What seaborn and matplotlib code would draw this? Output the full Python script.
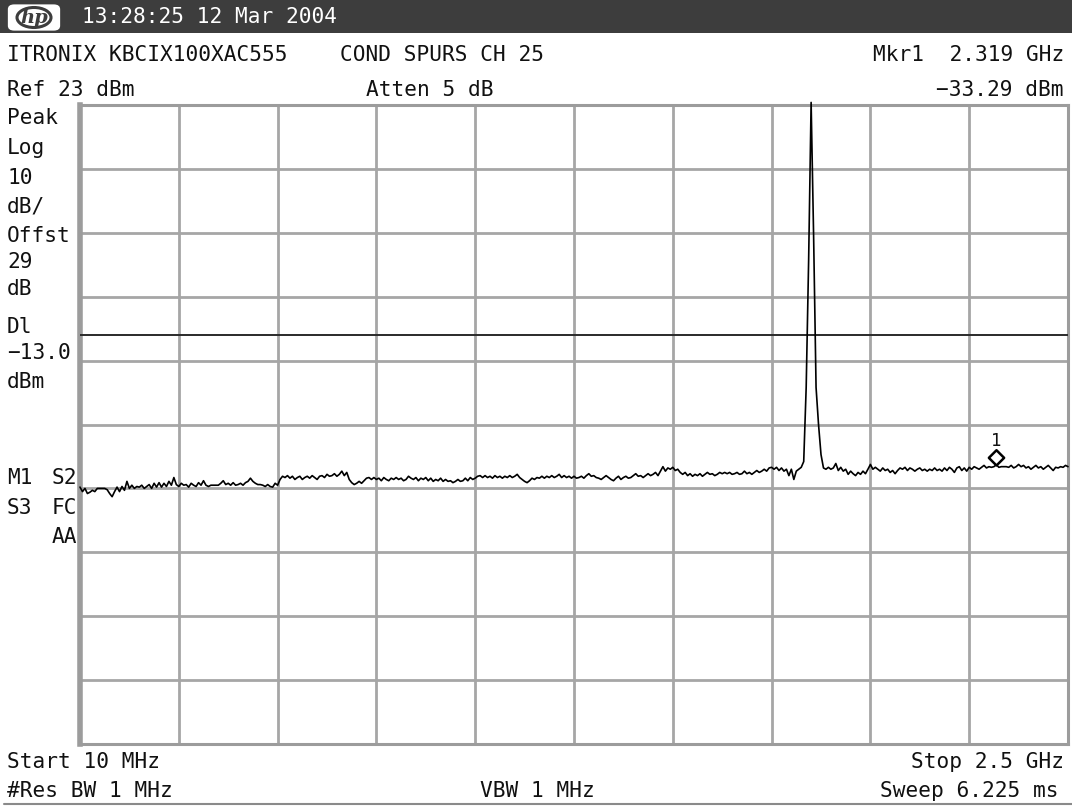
import numpy as np
import pandas as pd
import matplotlib
matplotlib.use("Agg")
import matplotlib.pyplot as plt
from matplotlib.path import Path
from matplotlib.patches import FancyBboxPatch, Rectangle, Ellipse
import seaborn as sns

# ---- sweep settings -------------------------------------------------------
START_GHZ = 0.010
STOP_GHZ = 2.5
N_POINTS = 401
REF_DBM = 23.0
DB_PER_DIV = 10.0
DISPLAY_LINE_DBM = -13.0
MARKER_GHZ = 2.319
MARKER_DBM = -33.29

# ---- measured trace (dBm), one value per sweep point -----------------------
trace_div1 = [-36.8, -37.5, -37.0, -37.8, -37.6, -37.3, -37.5, -37.0, -37.0, -37.0,
              -37.0, -37.2, -37.8, -38.3, -37.5, -36.8, -37.5, -36.7, -37.3, -35.9,
              -37.0, -36.5, -37.0, -36.7, -36.8, -36.5, -37.0, -36.7, -36.4, -37.0,
              -36.2, -36.8, -36.1, -36.8, -36.2, -36.7, -35.9, -36.5, -35.3, -36.4]
trace_div2 = [-36.7, -36.2, -36.5, -36.4, -36.8, -36.2, -36.5, -36.7, -36.1, -36.5,
              -35.8, -36.5, -36.7, -36.5, -36.5, -36.5, -36.5, -36.2, -35.8, -36.4,
              -36.2, -36.5, -36.1, -36.5, -36.4, -36.2, -36.5, -36.1, -35.9, -35.4,
              -35.9, -36.2, -36.4, -36.4, -36.5, -36.7, -36.4, -36.7, -36.8, -36.2]
trace_div3 = [-36.5, -35.6, -35.1, -35.3, -35.0, -35.4, -35.1, -35.6, -35.3, -35.1,
              -35.6, -35.3, -35.1, -35.4, -35.0, -35.3, -35.6, -35.1, -35.0, -35.3,
              -34.8, -35.1, -35.0, -34.7, -35.1, -34.8, -34.3, -35.0, -34.5, -35.6,
              -36.1, -36.4, -36.2, -35.9, -36.2, -35.8, -35.4, -35.3, -35.6, -35.3]
trace_div4 = [-35.6, -35.4, -35.8, -35.3, -35.6, -35.8, -35.4, -35.6, -35.3, -35.6,
              -35.4, -35.8, -35.6, -35.1, -35.4, -35.6, -35.3, -35.8, -35.4, -35.6,
              -35.3, -35.8, -35.4, -35.9, -35.6, -35.8, -35.4, -35.9, -35.6, -35.9,
              -35.8, -36.1, -35.9, -35.6, -35.9, -35.8, -35.4, -35.8, -35.3, -35.6]
trace_div5 = [-35.4, -35.1, -35.0, -35.3, -35.0, -35.3, -35.1, -35.4, -35.0, -35.3,
              -35.1, -35.4, -35.1, -35.3, -35.0, -35.3, -35.1, -34.8, -35.3, -35.6,
              -35.9, -36.1, -35.8, -35.4, -35.6, -35.3, -35.4, -35.1, -35.4, -35.1,
              -35.3, -35.0, -35.3, -35.1, -34.8, -35.3, -35.0, -35.3, -35.1, -35.4]
trace_div6 = [-35.1, -35.4, -35.3, -35.1, -35.4, -35.0, -34.7, -35.1, -35.0, -35.3,
              -35.4, -35.6, -35.3, -35.0, -35.3, -35.6, -35.8, -35.4, -35.1, -35.6,
              -35.3, -35.1, -35.4, -35.3, -35.0, -34.7, -35.1, -35.0, -35.3, -35.0,
              -34.7, -35.0, -34.8, -34.5, -35.0, -34.3, -33.6, -34.3, -33.8, -34.0]
trace_div7 = [-33.7, -34.2, -34.0, -34.5, -34.8, -34.5, -35.0, -34.7, -35.1, -34.8,
              -35.0, -34.7, -35.1, -34.8, -34.5, -34.8, -34.7, -35.0, -34.8, -34.5,
              -34.7, -34.5, -34.7, -34.5, -34.8, -34.7, -34.5, -34.8, -34.7, -34.3,
              -34.7, -34.5, -34.8, -34.5, -34.2, -34.5, -34.3, -34.0, -34.3, -33.8]
trace_div8 = [-33.7, -34.0, -33.7, -34.2, -33.8, -34.3, -34.0, -35.0, -34.0, -35.6,
              -34.3, -34.0, -33.7, -32.8, -21.2, -1.2, 23.4, 2.7, -21.2, -27.0,
              -31.7, -33.8, -34.0, -33.7, -34.0, -33.8, -33.1, -34.2, -33.7, -34.3,
              -34.0, -34.8, -34.3, -34.7, -35.0, -34.5, -34.8, -34.3, -34.7, -34.0]
trace_div9 = [-33.25, -34.0, -33.7, -34.0, -34.3, -33.8, -34.2, -34.0, -34.5, -34.2,
              -34.7, -34.2, -33.8, -34.0, -33.7, -34.2, -33.8, -34.0, -34.3, -34.0,
              -33.8, -34.2, -34.0, -34.3, -34.0, -34.2, -33.8, -34.2, -34.0, -34.3,
              -33.8, -34.2, -33.7, -34.0, -34.5, -33.8, -33.6, -34.2, -33.8, -34.3]
trace_div10 = [-33.7, -34.0, -33.6, -33.8, -34.0, -33.7, -33.4, -33.8, -33.6, -33.7,
               -33.6, -33.29, -33.7, -33.6, -33.6, -33.6, -33.7, -33.4, -33.8, -33.6,
               -33.25, -33.6, -33.4, -33.8, -33.6, -34.0, -33.7, -33.4, -33.8, -33.6,
               -34.0, -33.7, -33.4, -33.8, -34.2, -33.7, -33.8, -33.6, -33.7, -33.4,
               -33.6]

trace_dbm = (trace_div1 + trace_div2 + trace_div3 + trace_div4 + trace_div5 +
             trace_div6 + trace_div7 + trace_div8 + trace_div9 + trace_div10)
freq_ghz = np.linspace(START_GHZ, STOP_GHZ, N_POINTS)
sweep = pd.DataFrame({"freq_ghz": freq_ghz, "level_dbm": trace_dbm})

# ---- annotation text -------------------------------------------------------
header_text = "13:28:25 12 Mar 2004"
title_left = "ITRONIX KBCIX100XAC555"
title_mid = "COND SPURS CH 25"
mkr_freq_text = "Mkr1  2.319 GHz"
mkr_level_text = "\u221233.29 dBm"
ref_text = "Ref 23 dBm"
atten_text = "Atten 5 dB"
side_labels = [("Peak", 118), ("Log", 148), ("10", 178), ("dB/", 207),
               ("Offst", 236), ("29", 262), ("dB", 289), ("Dl", 327),
               ("\u221213.0", 353), ("dBm", 382)]
start_text = "Start 10 MHz"
stop_text = "Stop 2.5 GHz"
rbw_text = "#Res BW 1 MHz"
vbw_text = "VBW 1 MHz"
sweep_text = "Sweep 6.225 ms"

# ---- figure ---------------------------------------------------------------
sns.set_style("white")
plt.rcParams["font.family"] = ["DejaVu Sans Mono", "DejaVu Sans"]

W, H = 1072, 806
fig = plt.figure(figsize=(W / 100, H / 100), dpi=100)
fig.patch.set_facecolor("white")

def fx(x):
    return x / W

def fy(y):
    return 1 - y / H

FS = 15.2
TXT = "#111111"

ax_left, ax_right, ax_top, ax_bottom = 80, 1068, 105, 744
ax = fig.add_axes([fx(ax_left), fy(ax_bottom), (ax_right - ax_left) / W,
                   (ax_bottom - ax_top) / H])

bottom_dbm = REF_DBM - 10 * DB_PER_DIV
sns.lineplot(data=sweep, x="freq_ghz", y="level_dbm", color="black",
             linewidth=1.2, ax=ax, clip_on=False, zorder=5)
ax.set_xlim(START_GHZ, STOP_GHZ)
ax.set_ylim(bottom_dbm, REF_DBM)

ax.set_xticks(np.linspace(START_GHZ, STOP_GHZ, 11))
ax.set_yticks(np.linspace(bottom_dbm, REF_DBM, 11))
ax.tick_params(length=0, labelbottom=False, labelleft=False)
ax.set_xlabel("")
ax.set_ylabel("")
ax.grid(True, color="#a6a6a6", linewidth=2)
for name, sp in ax.spines.items():
    sp.set_color("#9c9c9c")
    sp.set_linewidth(2.2)
ax.spines["left"].set_linewidth(4)

# display line
ax.axhline(DISPLAY_LINE_DBM, color="#2a2a2a", linewidth=1.4, zorder=4)

# marker 1: diamond sitting on the trace point
diamond = Path([(0, 0), (1, 1), (0, 2), (-1, 1), (0, 0)],
               [Path.MOVETO, Path.LINETO, Path.LINETO, Path.LINETO, Path.CLOSEPOLY])
ax.plot([MARKER_GHZ], [MARKER_DBM], marker=diamond, markersize=22,
        markerfacecolor="white", markeredgecolor="black", markeredgewidth=1.8,
        linestyle="none", zorder=6, clip_on=False)
ax.annotate("1", (MARKER_GHZ, MARKER_DBM), xytext=(0, 17), textcoords="offset points",
            ha="center", va="center", fontsize=12.5, color=TXT)

# ---- header bar -----------------------------------------------------------
fig.patches.append(Rectangle((0, fy(33)), 1, 33 / H, transform=fig.transFigure,
                             facecolor="#3d3d3d", edgecolor="none", zorder=0))
fig.patches.append(FancyBboxPatch((fx(10), fy(29)), 48 / W, 23 / H,
                                  boxstyle="round,pad=0.002,rounding_size=0.006",
                                  transform=fig.transFigure, facecolor="white",
                                  edgecolor="none", zorder=1))
fig.patches.append(Ellipse((fx(34), fy(17.5)), 34 / W, 20 / H, transform=fig.transFigure,
                           facecolor="none", edgecolor="#3d3d3d", linewidth=2.2, zorder=2))
fig.text(fx(34), fy(18), "hp", ha="center", va="center", fontsize=14,
         fontstyle="italic", fontweight="bold", family="DejaVu Serif", color="#3d3d3d", zorder=3)
fig.text(fx(82), fy(17), header_text, ha="left", va="center", fontsize=FS, color="white")

# ---- top info rows --------------------------------------------------------
fig.text(fx(7), fy(55), title_left, ha="left", va="center", fontsize=FS, color=TXT)
fig.text(fx(340), fy(55), title_mid, ha="left", va="center", fontsize=FS, color=TXT)
fig.text(fx(1064), fy(55), mkr_freq_text, ha="right", va="center", fontsize=FS, color=TXT)
fig.text(fx(7), fy(90), ref_text, ha="left", va="center", fontsize=FS, color=TXT)
fig.text(fx(366), fy(90), atten_text, ha="left", va="center", fontsize=FS, color=TXT)
fig.text(fx(1064), fy(90), mkr_level_text, ha="right", va="center", fontsize=FS, color=TXT)

# ---- left annotation column -----------------------------------------------
for label, ypx in side_labels:
    fig.text(fx(7), fy(ypx), label, ha="left", va="center", fontsize=FS, color=TXT)
fig.text(fx(7), fy(478), "M1", ha="left", va="center", fontsize=FS, color=TXT)
fig.text(fx(77), fy(478), "S2", ha="right", va="center", fontsize=FS, color=TXT)
fig.text(fx(7), fy(508), "S3", ha="left", va="center", fontsize=FS, color=TXT)
fig.text(fx(77), fy(508), "FC", ha="right", va="center", fontsize=FS, color=TXT)
fig.text(fx(77), fy(537), "AA", ha="right", va="center", fontsize=FS, color=TXT)

# ---- bottom rows ----------------------------------------------------------
fig.text(fx(7), fy(762), start_text, ha="left", va="center", fontsize=FS, color=TXT)
fig.text(fx(1064), fy(762), stop_text, ha="right", va="center", fontsize=FS, color=TXT)
fig.text(fx(7), fy(791), rbw_text, ha="left", va="center", fontsize=FS, color=TXT)
fig.text(fx(480), fy(791), vbw_text, ha="left", va="center", fontsize=FS, color=TXT)
fig.text(fx(1058), fy(791), sweep_text, ha="right", va="center", fontsize=FS, color=TXT)
fig.add_artist(plt.Line2D([fx(4), fx(1072)], [fy(804), fy(804)], transform=fig.transFigure,
                          color="#8a8a8a", linewidth=1.5))

fig.savefig("out.png", dpi=100, facecolor="white")
